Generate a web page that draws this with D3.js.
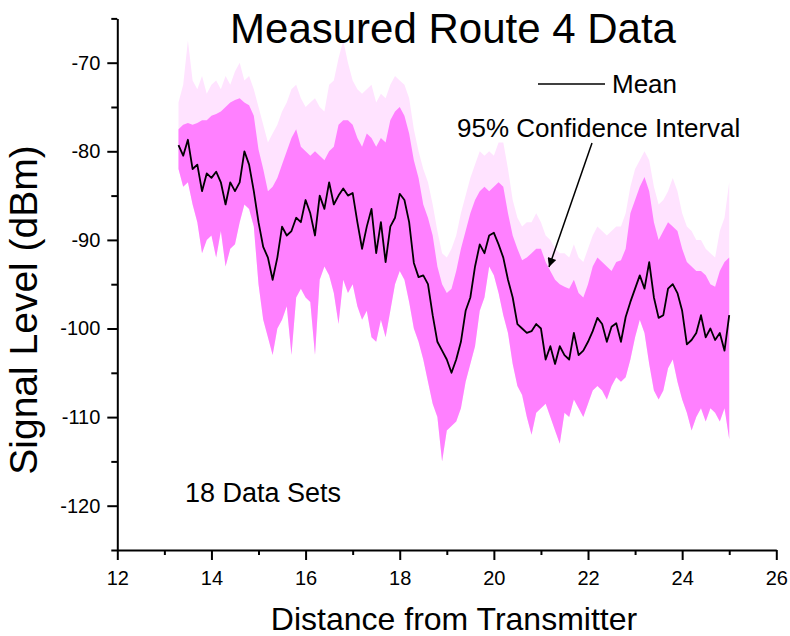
<!DOCTYPE html>
<html>
<head>
<meta charset="utf-8">
<script src="https://cdn.jsdelivr.net/npm/d3@7"></script>
<style>
  body { margin: 0; background: #fff; }
  svg { font-family: "Liberation Sans", Arial, sans-serif; }
</style>
</head>
<body>
<div id="chart-area"></div>
<script>
// distance from transmitter (km), one sample every 0.1
var distance = [
  13.3, 13.4, 13.5, 13.6, 13.7, 13.8, 13.9,
  14.0, 14.1, 14.2, 14.3, 14.4, 14.5, 14.6, 14.7, 14.8, 14.9,
  15.0, 15.1, 15.2, 15.3, 15.4, 15.5, 15.6, 15.7, 15.8, 15.9,
  16.0, 16.1, 16.2, 16.3, 16.4, 16.5, 16.6, 16.7, 16.8, 16.9,
  17.0, 17.1, 17.2, 17.3, 17.4, 17.5, 17.6, 17.7, 17.8, 17.9,
  18.0, 18.1, 18.2, 18.3, 18.4, 18.5, 18.6, 18.7, 18.8, 18.9,
  19.0, 19.1, 19.2, 19.3, 19.4, 19.5, 19.6, 19.7, 19.8, 19.9,
  20.0, 20.1, 20.2, 20.3, 20.4, 20.5, 20.6, 20.7, 20.8, 20.9,
  21.0, 21.1, 21.2, 21.3, 21.4, 21.5, 21.6, 21.7, 21.8, 21.9,
  22.0, 22.1, 22.2, 22.3, 22.4, 22.5, 22.6, 22.7, 22.8, 22.9,
  23.0, 23.1, 23.2, 23.3, 23.4, 23.5, 23.6, 23.7, 23.8, 23.9,
  24.0, 24.1, 24.2, 24.3, 24.4, 24.5, 24.6, 24.7, 24.8, 24.9,
  25.0
];

var mean = [
  -79.3, -80.5, -78.7, -82.0, -81.5, -84.5, -82.5,
  -83.0, -82.3, -83.5, -86.0, -83.5, -84.5, -83.5, -80.0, -81.5, -84.5,
  -88.0, -90.8, -92.0, -94.5, -92.0, -88.5, -89.5, -89.0, -87.5, -88.0,
  -85.5, -87.0, -89.5, -85.0, -86.5, -83.5, -86.0, -85.0, -84.2, -85.0,
  -84.7, -88.0, -91.0, -88.5, -86.5, -91.5, -88.0, -92.5, -88.5, -87.5,
  -84.8, -85.5, -88.0, -92.6, -94.2, -94.0, -95.0, -98.5, -101.5, -102.5,
  -103.5, -105.0, -103.5, -101.5, -98.0, -96.5, -93.0, -90.5, -91.5, -89.5,
  -89.2, -90.5, -92.0, -94.5, -96.5, -99.5, -100.0, -100.5, -100.3, -99.5,
  -100.0, -103.5, -102.0, -104.0, -102.0, -103.0, -103.5, -100.5, -103.0, -102.5,
  -101.5, -100.3, -98.8, -99.5, -101.5, -99.8, -99.4, -101.5, -98.7, -97.0,
  -95.5, -94.0, -95.5, -92.5, -96.5, -98.8, -98.5, -95.5, -95.0, -96.0,
  -98.0, -101.8, -101.3, -100.5, -98.5, -101.0, -100.0, -101.3, -100.5, -102.5,
  -98.5
];

// 95% confidence band (solid part)
var upper = [
  -77.5, -77.0, -76.8, -77.0, -76.8, -76.5, -76.5,
  -76.0, -75.8, -75.5, -75.0, -74.5, -74.2, -74.0, -74.5, -74.8, -76.0,
  -79.8, -82.0, -84.5, -84.0, -83.0, -81.5, -80.0, -78.5, -77.5, -79.5,
  -80.0, -80.5, -80.0, -80.5, -81.0, -80.0, -79.5, -77.0, -76.5, -76.5,
  -77.0, -78.5, -79.5, -78.0, -78.5, -79.5, -78.5, -79.0, -76.5, -75.5,
  -75.0, -76.0, -78.0, -81.0, -83.0, -86.0, -87.5, -89.5, -93.0, -95.0,
  -96.0, -95.5, -93.5, -91.0, -89.0, -87.0, -85.5, -84.5, -84.0, -84.5,
  -84.0, -83.5, -84.0, -87.0, -89.5, -91.0, -92.3, -92.0, -91.5, -91.0,
  -91.0, -92.5, -93.5, -94.5, -95.0, -95.3, -95.5, -94.5, -96.0, -96.5,
  -95.0, -93.0, -92.0, -92.5, -93.0, -93.5, -92.5, -92.3, -91.0, -87.0,
  -85.5, -84.0, -82.9, -84.5, -88.0, -90.0, -89.0, -88.0, -88.5, -89.0,
  -91.0, -92.5, -93.0, -93.5, -93.5, -94.0, -95.0, -95.3, -93.5, -92.5,
  -92.0
];

// highest spikes of the band (faint)
var peak = [
  -74.5, -72.5, -67.5, -72.0, -73.0, -71.5, -73.5,
  -72.5, -72.0, -73.0, -71.5, -72.5, -71.0, -70.0, -72.0, -71.5, -73.0,
  -75.0, -77.0, -79.0, -78.0, -77.0, -75.5, -74.5, -73.0, -72.5, -74.0,
  -75.0, -74.5, -74.0, -75.0, -75.5, -72.5, -72.0, -69.5, -67.5, -70.0,
  -72.0, -73.0, -73.5, -73.0, -72.5, -74.5, -73.5, -74.0, -72.5, -71.5,
  -72.0, -72.5, -74.0, -77.5, -80.0, -82.0, -83.5, -86.0, -89.0, -91.5,
  -92.0, -91.0, -89.5, -87.0, -85.0, -83.0, -81.5, -80.0, -80.5, -80.0,
  -80.5, -79.0, -79.0, -82.0, -85.5, -87.5, -88.5, -88.0, -88.0, -87.0,
  -88.0, -89.5, -90.0, -91.0, -91.5, -91.5, -92.0, -90.5, -92.0, -92.5,
  -91.0, -89.5, -88.5, -89.0, -89.5, -89.0, -88.5, -88.5, -87.0, -84.0,
  -82.0, -81.0, -80.0, -81.0, -84.0, -86.0, -85.5, -84.5, -83.0, -84.5,
  -87.0, -88.5, -89.0, -90.0, -90.0, -91.0, -91.5, -92.0, -89.0, -87.5,
  -83.5
];

var lower = [
  -82.0, -84.0, -83.5, -86.0, -88.0, -91.5, -90.0,
  -89.5, -92.0, -89.0, -93.0, -91.0, -90.5, -88.0, -86.0, -86.5, -88.5,
  -95.0, -99.0, -101.0, -103.0, -100.0, -99.0, -97.5, -103.0, -96.5, -95.5,
  -96.5, -97.0, -103.0, -94.5, -93.0, -94.0, -96.0, -99.5, -94.5, -96.0,
  -95.0, -97.5, -99.0, -98.0, -101.0, -101.5, -99.0, -101.0, -98.0, -95.0,
  -93.5, -94.5, -97.0, -100.0, -101.5, -103.5, -106.0, -108.5, -110.0, -115.0,
  -111.5, -111.0, -110.5, -109.0, -106.0, -104.0, -102.0, -98.0, -96.5, -93.0,
  -94.0, -96.0, -98.5, -100.5, -104.0, -106.5, -107.5, -110.0, -112.0, -109.5,
  -109.0, -108.5, -110.0, -111.5, -113.0, -109.5, -110.0, -108.0, -109.0, -110.0,
  -108.5, -107.0, -106.5, -107.0, -108.0, -106.5, -105.5, -106.0, -105.5, -103.5,
  -101.0, -99.0, -100.5, -104.0, -107.0, -108.0, -107.0, -104.5, -103.5, -106.0,
  -108.0, -109.5, -111.5, -110.0, -109.0, -110.5, -109.0, -109.5, -110.5, -109.0,
  -112.5
];

var xMajor = [12, 14, 16, 18, 20, 22, 24, 26];
var xMinor = [13, 15, 17, 19, 21, 23, 25];
var yMajor = [-120, -110, -100, -90, -80, -70];
var yMinor = [-125, -115, -105, -95, -85, -75, -65];

var data = distance.map(function(d, i) {
  return {d: d, mean: mean[i], upper: upper[i], peak: peak[i], lower: lower[i]};
});

var width = 790, height = 636;

var svg = d3.select("#chart-area")
  .append("svg")
    .attr("width", width)
    .attr("height", height);

var x = d3.scaleLinear().domain([12, 26]).range([117.3, 776.3]);
var y = d3.scaleLinear().domain([-125, -65]).range([550, 18.4]);

// faint spikes above the band
svg.append("path")
  .datum(data)
  .attr("fill", "#ffe3ff")
  .attr("d", d3.area()
    .x(function(d) { return x(d.d); })
    .y0(function(d) { return y(d.lower); })
    .y1(function(d) { return y(d.peak); }));

// confidence band
svg.append("path")
  .datum(data)
  .attr("fill", "#ff80ff")
  .attr("d", d3.area()
    .x(function(d) { return x(d.d); })
    .y0(function(d) { return y(d.lower); })
    .y1(function(d) { return y(d.upper); }));

// mean
svg.append("path")
  .datum(data)
  .attr("fill", "none")
  .attr("stroke", "#000")
  .attr("stroke-width", 1.8)
  .attr("stroke-linejoin", "round")
  .attr("d", d3.line()
    .x(function(d) { return x(d.d); })
    .y(function(d) { return y(d.mean); }));

// axes
function styleAxis(g) {
  g.selectAll("path, line").attr("stroke", "#000").attr("stroke-width", 2);
  g.selectAll("text").attr("font-size", "20px").attr("fill", "#000")
    .attr("font-family", "Liberation Sans, Arial, sans-serif");
}

var plain = function(d) { return String(d); };

svg.append("g")
  .attr("transform", "translate(" + x(12) + ",0)")
  .call(d3.axisLeft(y).tickValues(yMinor).tickSize(6).tickSizeOuter(0).tickFormat(""))
  .call(styleAxis);

svg.append("g")
  .attr("transform", "translate(" + x(12) + ",0)")
  .call(d3.axisLeft(y).tickValues(yMajor).tickSize(10).tickSizeOuter(0).tickPadding(7).tickFormat(plain))
  .call(styleAxis)
  .call(function(g) { g.select(".domain").remove(); });

svg.append("g")
  .attr("transform", "translate(0," + y(-125) + ")")
  .call(d3.axisBottom(x).tickValues(xMinor).tickSize(5).tickSizeOuter(0).tickFormat(""))
  .call(styleAxis);

svg.append("g")
  .attr("transform", "translate(0," + y(-125) + ")")
  .call(d3.axisBottom(x).tickValues(xMajor).tickSize(10).tickSizeOuter(0).tickPadding(11).tickFormat(plain))
  .call(styleAxis)
  .call(function(g) { g.select(".domain").remove(); });

// titles
svg.append("text")
  .attr("x", 453)
  .attr("y", 43)
  .attr("font-size", "42px")
  .attr("text-anchor", "middle")
  .text("Measured Route 4 Data");

svg.append("text")
  .attr("x", 454)
  .attr("y", 630)
  .attr("font-size", "32px")
  .attr("text-anchor", "middle")
  .text("Distance from Transmitter");

svg.append("text")
  .attr("transform", "translate(37,310) rotate(-90)")
  .attr("font-size", "39px")
  .attr("text-anchor", "middle")
  .text("Signal Level (dBm)");

// legend and notes
svg.append("line")
  .attr("x1", 538).attr("x2", 605)
  .attr("y1", 84).attr("y2", 84)
  .attr("stroke", "#000")
  .attr("stroke-width", 1.5);

svg.append("text")
  .attr("x", 612)
  .attr("y", 93)
  .attr("font-size", "26px")
  .text("Mean");

svg.append("text")
  .attr("x", 457)
  .attr("y", 137)
  .attr("font-size", "26px")
  .text("95% Confidence Interval");

svg.append("text")
  .attr("x", 185)
  .attr("y", 502)
  .attr("font-size", "27px")
  .text("18 Data Sets");

svg.append("defs").append("marker")
  .attr("id", "arrow")
  .attr("viewBox", "0 0 10 10")
  .attr("refX", 10).attr("refY", 5)
  .attr("markerWidth", 12).attr("markerHeight", 9)
  .attr("markerUnits", "userSpaceOnUse")
  .attr("orient", "auto")
  .append("path")
    .attr("d", "M0,0 L10,5 L0,10 Z")
    .attr("fill", "#000");

svg.append("line")
  .attr("x1", 592).attr("y1", 143)
  .attr("x2", 549).attr("y2", 267)
  .attr("stroke", "#000")
  .attr("stroke-width", 1.5)
  .attr("marker-end", "url(#arrow)");
</script>
</body>
</html>
